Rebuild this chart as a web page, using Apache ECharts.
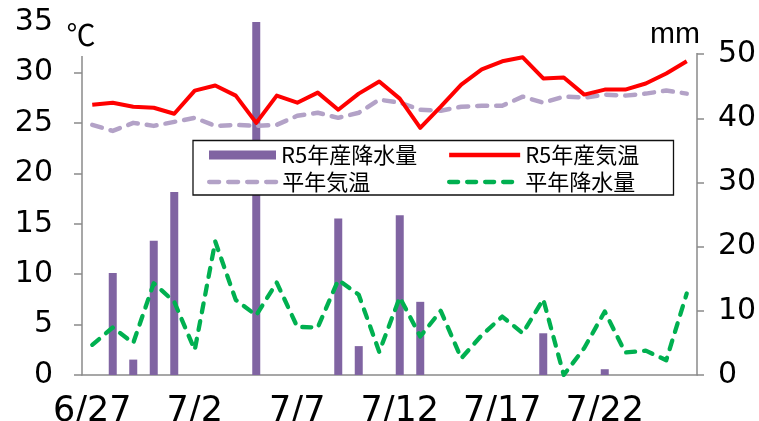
<!DOCTYPE html>
<html>
<head>
<meta charset="utf-8">
<script src="https://cdn.jsdelivr.net/npm/echarts@6/dist/echarts.min.js"></script>
<style>
html,body{margin:0;padding:0;background:#fff;}
#c{width:759px;height:421px;}
</style>
</head>
<body>
<div id="c"></div>
<script>
const categories = ['6/27','6/28','6/29','6/30','7/1','7/2','7/3','7/4','7/5','7/6','7/7','7/8','7/9','7/10','7/11','7/12','7/13','7/14','7/15','7/16','7/17','7/18','7/19','7/20','7/21','7/22','7/23','7/24','7/25','7/26'];
const rainR5 = [0, 15.9, 2.4, 20.9, 28.5, 0, 0, 0, 70, 0, 0, 0, 24.4, 4.5, 0, 24.9, 11.4, 0, 0, 0, 0, 0, 6.5, 0, 0, 0.9, 0, 0, 0, 0];
const tempR5 = [26.8, 27.0, 26.6, 26.5, 25.9, 28.2, 28.7, 27.7, 25.0, 27.7, 27.0, 28.0, 26.3, 27.9, 29.1, 27.4, 24.5, 26.6, 28.8, 30.3, 31.1, 31.5, 29.4, 29.5, 27.8, 28.3, 28.3, 28.9, 29.9, 31.1];
const tempAvg = [24.8, 24.2, 25.0, 24.7, 25.1, 25.5, 24.7, 24.8, 24.7, 24.8, 25.7, 26.0, 25.5, 26.0, 27.3, 27.0, 26.3, 26.2, 26.6, 26.7, 26.7, 27.6, 27.0, 27.6, 27.5, 27.8, 27.7, 27.9, 28.2, 27.9];
const rainAvg = [4.7, 7.4, 5.0, 14.3, 11.4, 3.9, 20.8, 11.7, 9.3, 14.4, 7.5, 7.4, 14.8, 12.5, 3.6, 12.1, 6.0, 10.0, 2.6, 6.2, 9.1, 6.5, 11.8, 0, 4.2, 9.9, 3.5, 3.8, 2.3, 12.7];
const leftTicks = {min: 0, max: 35, interval: 5};
const rightTicks = {min: 0, max: 55, interval: 10};

const axisColor = '#8a8a8a';
const numFont = 'DejaVu Sans';
const jpFont = 'Noto Sans CJK JP';

const chart = echarts.init(document.getElementById('c'), null, {renderer: 'canvas'});

function legendItem(name, left, top, w, h, isLine) {
  const l = {
    data: [name], left: left, top: top, itemWidth: w, itemHeight: h,
    padding: 0, selectedMode: false,
    textStyle: {fontFamily: jpFont, fontSize: 22, color: '#000', lineHeight: 22}
  };
  if (isLine) {
    l.itemStyle = {opacity: 0};
    l.lineStyle = {width: 4.3};
  } else {
    l.icon = 'rect';
  }
  return l;
}

chart.setOption({
  animation: false,
  backgroundColor: '#fff',
  grid: {left: 82, right: 62, top: 22, bottom: 46, outerBoundsMode: 'none'},
  legend: [
    legendItem('R5年産降水量', 209, 144, 67, 9, false),
    legendItem('R5年産気温', 447, 144, 71, 10, true),
    legendItem('平年気温', 207, 171, 68, 10, true),
    legendItem('平年降水量', 447, 171, 71, 10, true)
  ],
  xAxis: {
    type: 'category', data: categories, boundaryGap: true,
    axisLine: {lineStyle: {color: axisColor, width: 1.5}},
    axisTick: {interval: 4, length: 7, lineStyle: {color: axisColor, width: 1.5}},
    axisLabel: {interval: 4, fontFamily: numFont, fontSize: 35, color: '#000', margin: 19}
  },
  yAxis: [
    {
      type: 'value', position: 'left', min: leftTicks.min, max: leftTicks.max, interval: leftTicks.interval,
      splitLine: {show: false},
      axisLine: {show: true, lineStyle: {color: axisColor, width: 1.5}},
      axisTick: {show: true, length: 8, lineStyle: {color: axisColor, width: 1.5}},
      axisLabel: {fontFamily: numFont, fontSize: 30, color: '#000', margin: 29}
    },
    {
      type: 'value', position: 'right', min: rightTicks.min, max: rightTicks.max, interval: rightTicks.interval,
      splitLine: {show: false},
      axisLine: {show: true, lineStyle: {color: axisColor, width: 1.5}},
      axisTick: {show: true, length: 7, lineStyle: {color: axisColor, width: 1.5}},
      axisLabel: {fontFamily: numFont, fontSize: 30, color: '#000', margin: 21, showMaxLabel: false}
    }
  ],
  series: [
    {
      name: 'R5年産降水量', type: 'bar', yAxisIndex: 1, data: rainR5, barWidth: 8,
      itemStyle: {color: '#8064A2'}, clip: true, z: 1
    },
    {
      name: '平年気温', type: 'line', yAxisIndex: 0, data: tempAvg, symbol: 'none',
      lineStyle: {color: '#B3A2C7', width: 4.5, type: [10, 9], cap: 'round', join: 'round'},
      itemStyle: {color: '#B3A2C7'}, z: 2
    },
    {
      name: '平年降水量', type: 'line', yAxisIndex: 1, data: rainAvg, symbol: 'none',
      lineStyle: {color: '#00B050', width: 4.3, type: [9, 9], cap: 'round', join: 'round'},
      itemStyle: {color: '#00B050'}, z: 2
    },
    {
      name: 'R5年産気温', type: 'line', yAxisIndex: 0, data: tempR5, symbol: 'none',
      lineStyle: {color: '#FF0000', width: 4, join: 'round'},
      itemStyle: {color: '#FF0000'}, z: 3
    }
  ],
  graphic: [
    {type: 'rect', shape: {x: 193, y: 140.5, width: 480.5, height: 54.5},
     style: {fill: '#fff', stroke: '#111', lineWidth: 1.3}, z: 3},
    {type: 'rect', shape: {x: 62, y: 16, width: 38, height: 40}, style: {fill: '#fff'}, z: 10},
    {type: 'rect', shape: {x: 640, y: 14, width: 72, height: 39}, style: {fill: '#fff'}, z: 10},
    {type: 'text', style: {text: '℃', x: 81, y: 35, fill: '#000', font: '29px "Noto Sans CJK JP"', textAlign: 'center', textVerticalAlign: 'middle'}, z: 11},
    {type: 'text', style: {text: 'mm', x: 675, y: 35, fill: '#000', font: '30px "Liberation Sans"', textAlign: 'center', textVerticalAlign: 'middle'}, z: 11}
  ]
});
</script>
</body>
</html>
